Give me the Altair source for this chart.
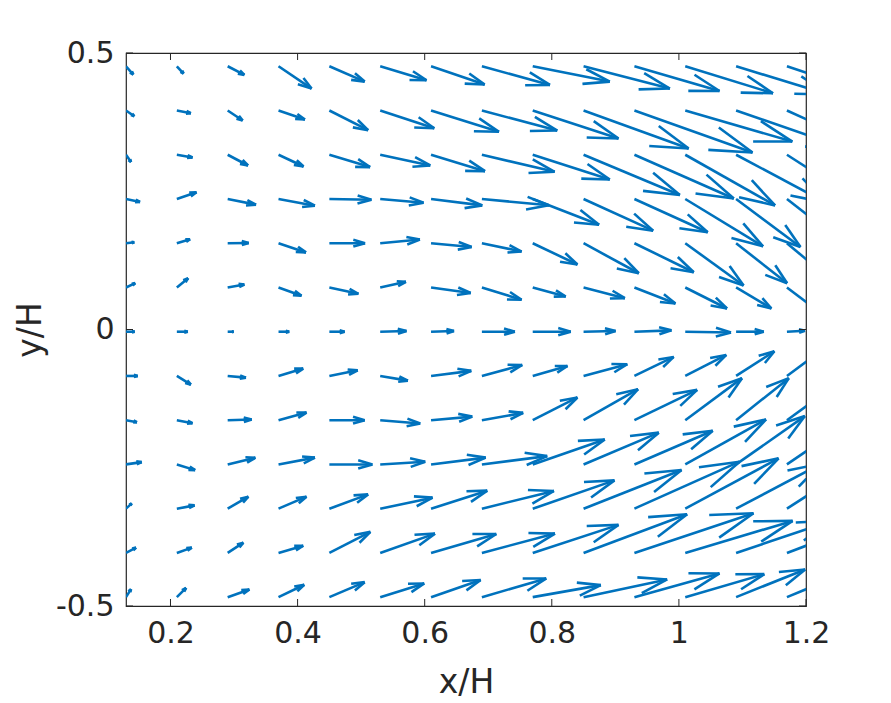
import altair as alt
import pandas as pd

# grid of measurement points (x/H, y/H)
x_cols = [0.13, 0.21, 0.29, 0.37, 0.45, 0.53, 0.61, 0.69, 0.77, 0.85, 0.93, 1.01, 1.09, 1.17]
y_rows = [0.476, 0.396, 0.316, 0.236, 0.156, 0.076, -0.004, -0.084, -0.164, -0.244, -0.324, -0.404, -0.484]

# vector components, in 1e-3 H (row by row, top row first)
U = [
    [11.5, 10.6, 26.3, 52.0, 55.6, 72.9, 84.4, 107.1, 121.3, 135.8, 133.9, 138.1, 144.9, 141.8],
    [13.1, 22.1, 23.6, 41.6, 61.0, 85.1, 106.9, 118.6, 135.0, 165.4, 185.9, 168.5, 173.3, 157.5],
    [7.9, 24.7, 32.0, 39.4, 64.1, 78.8, 84.9, 114.5, 121.3, 151.5, 156.4, 141.3, 141.8, 110.3],
    [22.1, 31.0, 44.6, 57.3, 66.2, 68.2, 80.6, 105.5, 104.4, 109.5, 115.4, 122.4, 101.3, 110.3],
    [13.1, 20.9, 33.1, 43.2, 56.2, 62.5, 63.9, 62.5, 70.4, 86.9, 93.4, 91.8, 80.3, 94.5],
    [14.6, 17.8, 26.3, 36.2, 45.7, 40.5, 62.4, 62.5, 52.0, 65.0, 64.6, 65.7, 55.6, 70.9],
    [13.7, 17.3, 9.5, 16.9, 24.1, 41.4, 36.2, 52.0, 59.9, 50.4, 58.3, 72.0, 43.6, 28.4],
    [18.4, 22.1, 28.8, 38.9, 44.6, 43.6, 63.3, 63.5, 54.7, 68.8, 61.9, 64.6, 60.3, 78.8],
    [17.3, 24.7, 37.8, 44.1, 55.6, 63.0, 64.9, 65.0, 70.4, 85.8, 98.8, 89.3, 83.0, 86.6],
    [24.7, 28.8, 43.6, 57.3, 67.7, 70.9, 86.0, 102.8, 113.4, 118.4, 123.3, 127.1, 108.2, 94.5],
    [9.0, 27.9, 32.6, 44.1, 61.0, 82.4, 88.5, 113.4, 128.7, 154.2, 165.4, 146.9, 133.9, 102.4],
    [15.8, 23.6, 24.7, 38.9, 64.6, 86.2, 102.7, 115.0, 135.0, 163.0, 187.4, 169.0, 149.6, 126.0],
    [7.9, 14.6, 34.2, 40.5, 55.6, 69.3, 78.1, 101.3, 107.1, 131.5, 133.9, 124.4, 108.7, 110.3],
]
V = [
    [-15.0, -13.2, -15.7, -40.3, -27.7, -25.3, -33.1, -33.8, -27.7, -40.3, -44.7, -48.8, -50.7, -54.3],
    [-10.3, -4.9, -18.1, -16.3, -35.6, -32.0, -38.5, -36.2, -50.7, -68.7, -76.0, -56.1, -68.7, -81.4],
    [-13.2, -4.9, -19.4, -21.2, -22.3, -19.4, -29.7, -30.8, -44.7, -72.9, -79.1, -91.7, -86.8, -81.4],
    [-5.4, 12.1, -10.3, -12.1, -1.3, -6.7, -11.6, -11.4, -46.5, -57.3, -60.2, -85.6, -86.8, -99.5],
    [1.8, 7.2, 0.5, -16.6, 0.0, 6.7, -6.9, -15.0, -38.5, -54.3, -52.5, -76.5, -72.4, -90.5],
    [7.8, 16.8, 5.4, -15.0, -11.4, 10.3, -10.1, -22.3, -16.3, -19.4, -28.9, -38.0, -38.0, -61.5],
    [0.0, 0.0, 0.0, 0.0, 0.0, 1.3, 1.3, 0.0, 0.0, 1.3, 2.4, -1.3, 0.0, 1.8],
    [0.0, -15.7, -3.1, 13.4, 10.3, -8.5, 9.2, 19.9, 18.1, 21.2, 34.4, 38.0, 44.7, 66.9],
    [-3.6, -5.4, 1.3, 13.7, 0.0, -6.0, 6.5, 13.2, 41.1, 56.1, 54.8, 76.0, 76.0, 72.4],
    [4.2, -10.3, 12.1, 12.3, 0.0, 4.9, 12.3, 15.0, 45.2, 57.5, 61.0, 81.4, 87.4, 74.2],
    [9.6, 6.0, 21.7, 21.7, 25.9, 19.9, 32.6, 32.0, 51.2, 70.0, 85.0, 91.0, 81.4, 76.0],
    [9.6, 9.6, 18.6, 13.0, 38.0, 34.9, 34.2, 34.9, 50.7, 70.0, 71.8, 57.9, 57.9, 54.3],
    [14.5, 16.8, 13.9, 22.4, 27.1, 24.8, 30.9, 33.8, 21.7, 32.0, 42.9, 41.6, 50.1, 52.5],
]
UNIT = 1e-3

x_ticks = [0.2, 0.4, 0.6, 0.8, 1.0, 1.2]
y_ticks = [-0.5, 0.0, 0.5]

# build quiver segments (shaft + two head barbs, MATLAB-style heads)
ALPHA, BETA = 0.33, 0.33
segs = []
for i, yv in enumerate(y_rows):
    for j, xv in enumerate(x_cols):
        u = U[i][j] * UNIT
        v = V[i][j] * UNIT
        xt, yt = xv + u, yv + v
        segs.append({"x": xv, "y": yv, "xe": xt, "ye": yt})
        segs.append({"x": xt, "y": yt,
                     "xe": xt - ALPHA * (u + BETA * v), "ye": yt - ALPHA * (v - BETA * u)})
        segs.append({"x": xt, "y": yt,
                     "xe": xt - ALPHA * (u - BETA * v), "ye": yt - ALPHA * (v + BETA * u)})
df = pd.DataFrame(segs)

W, H = 680, 553
FONT = "DejaVu Sans"
AX = "#262626"
LBL = "replace(format(datum.value, '~g'), '\u2212', '-')"

xscale = alt.Scale(domain=[0.13, 1.2], nice=False, zero=False)
yscale = alt.Scale(domain=[-0.5, 0.5], nice=False, zero=False)

xaxis = alt.Axis(values=x_ticks, title="x/H", ticks=False, domain=False, grid=False,
                 labelFontSize=30, titleFontSize=33, labelFont=FONT, titleFont=FONT,
                 labelColor=AX, titleColor=AX, labelPadding=12, titlePadding=18,
                 titleFontWeight="normal", labelFlush=False, labelExpr=LBL)
yaxis = alt.Axis(values=y_ticks, title="y/H", ticks=False, domain=False, grid=False,
                 labelFontSize=30, titleFontSize=33, labelFont=FONT, titleFont=FONT,
                 labelColor=AX, titleColor=AX, labelPadding=12, titlePadding=8,
                 titleFontWeight="normal", labelFlush=False, labelExpr=LBL)

arrows = alt.Chart(df).mark_rule(color="#0072BD", strokeWidth=2.6, clip=True, strokeCap="butt").encode(
    x=alt.X("x:Q", scale=xscale, axis=xaxis),
    y=alt.Y("y:Q", scale=yscale, axis=yaxis),
    x2="xe:Q",
    y2="ye:Q",
)

xt_df = pd.DataFrame({"t": x_ticks})
yt_df = pd.DataFrame({"t": y_ticks})
tick_style = dict(color=AX, strokeWidth=1)
xt_bot = alt.Chart(xt_df).mark_rule(**tick_style).encode(
    x=alt.X("t:Q", scale=xscale), y=alt.value(H), y2=alt.value(H - 7))
xt_top = alt.Chart(xt_df).mark_rule(**tick_style).encode(
    x=alt.X("t:Q", scale=xscale), y=alt.value(0), y2=alt.value(7))
yt_left = alt.Chart(yt_df).mark_rule(**tick_style).encode(
    y=alt.Y("t:Q", scale=yscale), x=alt.value(0), x2=alt.value(7))
yt_right = alt.Chart(yt_df).mark_rule(**tick_style).encode(
    y=alt.Y("t:Q", scale=yscale), x=alt.value(W), x2=alt.value(W - 7))

chart = alt.layer(arrows, xt_bot, xt_top, yt_left, yt_right).properties(
    width=W, height=H,
    autosize=alt.AutoSizeParams(type="none"),
    padding={"left": 118, "top": 45, "right": 70, "bottom": 94},
    background="white",
).configure_view(stroke=AX, strokeWidth=1.2)

chart.save("out.html", embed_options={"renderer": "svg", "actions": False})
